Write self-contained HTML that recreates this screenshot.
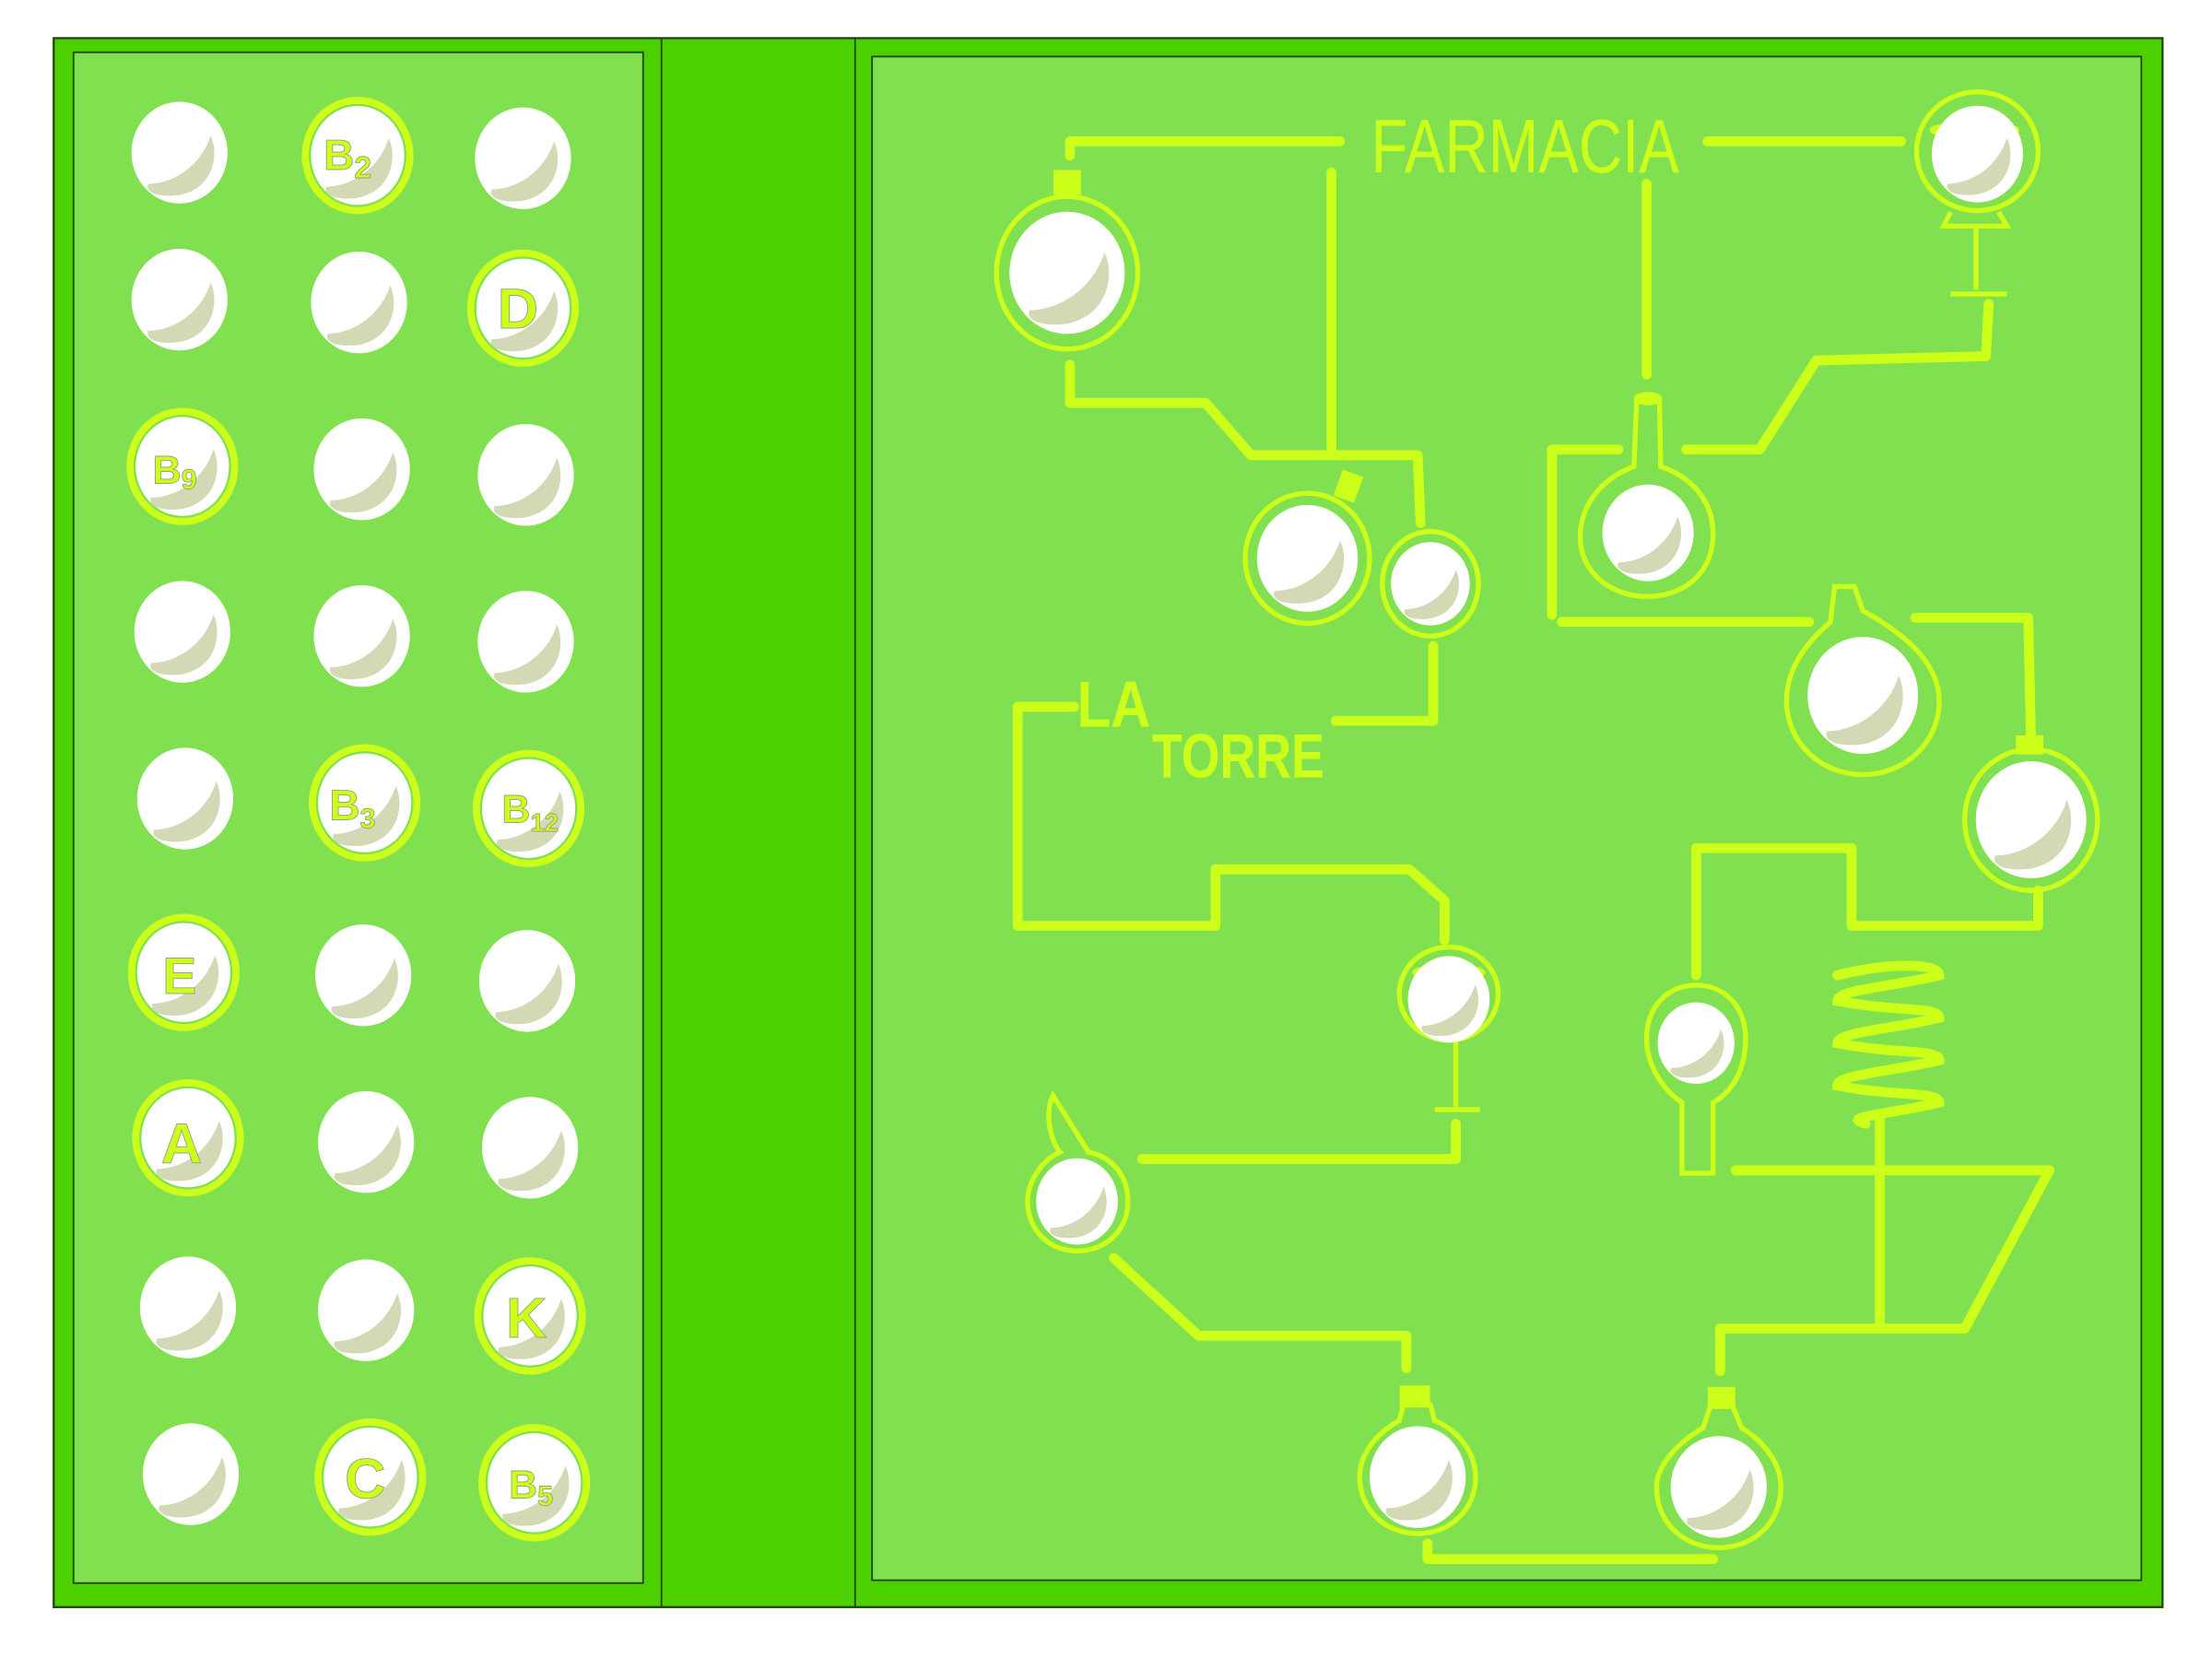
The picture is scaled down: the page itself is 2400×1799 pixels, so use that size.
<!DOCTYPE html>
<html><head><meta charset="utf-8"><style>
html,body{margin:0;padding:0;background:#fff;width:2400px;height:1799px;overflow:hidden}
svg{display:block}
text{font-family:"Liberation Sans","DejaVu Sans",sans-serif}
</style></head><body>
<svg width="2400" height="1799" viewBox="0 0 1565 1173" preserveAspectRatio="none" xmlns="http://www.w3.org/2000/svg">
<defs>
<g id="pill">
<ellipse cx="0" cy="0" rx="34" ry="36" fill="#fff"/>
<path d="M-22,22 C-5,22 15,10 22,-12 C28,0 25,25 0,30 C-15,32 -25,28 -22,22Z" fill="#d2d9b4"/>
</g>
<g id="pillr">
<ellipse cx="0" cy="0" rx="37" ry="39" fill="none" stroke="#ccff1a" stroke-width="5"/>
<ellipse cx="0" cy="0" rx="33" ry="35" fill="#fff"/>
<path d="M-22,22 C-5,22 15,10 22,-12 C28,0 25,25 0,30 C-15,32 -25,28 -22,22Z" fill="#d2d9b4"/>
</g>
</defs>
<rect x="0" y="0" width="1565" height="1173" fill="#fff"/>
<rect x="38" y="27" width="1492" height="1110" fill="#4cd000" stroke="#1d4a00" stroke-width="1.5"/>
<rect x="52" y="37" width="403" height="1083" fill="#80e050" stroke="#1d4a00" stroke-width="1.2"/>
<line x1="468" y1="27" x2="468" y2="1137" stroke="#1d4a00" stroke-width="1.2"/>
<line x1="605" y1="27" x2="605" y2="1137" stroke="#1d4a00" stroke-width="1.2"/>
<rect x="617" y="40" width="898" height="1078" fill="#80e050" stroke="#1d4a00" stroke-width="1.2"/>

<g>
<use href="#pill" x="127" y="108"/><use href="#pillr" x="253" y="110"/><use href="#pill" x="370" y="112"/>
<use href="#pill" x="127" y="212"/><use href="#pill" x="254" y="214"/><use href="#pillr" x="370" y="218"/>
<use href="#pillr" x="129" y="330"/><use href="#pill" x="256" y="332"/><use href="#pill" x="372" y="336"/>
<use href="#pill" x="129" y="447"/><use href="#pill" x="256" y="450"/><use href="#pill" x="372" y="454"/>
<use href="#pill" x="131" y="565"/><use href="#pillr" x="258" y="568"/><use href="#pillr" x="374" y="572"/>
<use href="#pillr" x="130" y="688"/><use href="#pill" x="257" y="690"/><use href="#pill" x="373" y="694"/>
<use href="#pillr" x="133" y="805"/><use href="#pill" x="259" y="808"/><use href="#pill" x="375" y="812"/>
<use href="#pill" x="133" y="925"/><use href="#pill" x="259" y="927"/><use href="#pillr" x="375" y="931"/>
<use href="#pill" x="135" y="1043"/><use href="#pillr" x="262" y="1045"/><use href="#pillr" x="378" y="1049"/>
</g>
<g fill="#ccff1a" stroke="#9aa080" stroke-width="0.6" font-weight="bold">
<text x="229" y="120" font-size="30">B<tspan font-size="22" dy="6">2</tspan></text>
<text x="352" y="232" font-size="40">D</text>
<text x="108" y="342" font-size="28">B<tspan font-size="20" dy="4">9</tspan></text>
<text x="233" y="580" font-size="30">B<tspan font-size="20" dy="6">3</tspan></text>
<text x="355" y="582" font-size="28">B<tspan font-size="18" dy="6">12</tspan></text>
<text x="115" y="703" font-size="36">E</text>
<text x="114" y="823" font-size="40">A</text>
<text x="358" y="946" font-size="40">K</text>
<text x="244" y="1060" font-size="40">C</text>
<text x="360" y="1060" font-size="28">B<tspan font-size="20" dy="5">5</tspan></text>
</g>

<g fill="none" stroke="#ccff1a" stroke-width="7" stroke-linecap="round" stroke-linejoin="round">
<polyline points="757,110 757,100 948,100"/>
<line x1="1208" y1="100" x2="1345" y2="100"/>
<line x1="942" y1="122" x2="942" y2="322"/>
<line x1="1165" y1="130" x2="1165" y2="265"/>
<polyline points="757,258 757,285 853,285 885,322 1003,322 1005,370"/>
<polyline points="1014,457 1014,510 945,510"/>
<polyline points="760,500 720,500 720,655 860,655 860,615 997,615 1022,637 1022,665"/>
<polyline points="808,820 1030,820 1030,795"/>
<polyline points="788,890 848,945 995,945 995,968"/>
<polyline points="1010,1092 1010,1103 1212,1103"/>
<polyline points="1217,970 1217,940 1390,940 1450,828 1228,828"/>
<line x1="1330" y1="790" x2="1330" y2="935"/>
<polyline points="1200,690 1200,600 1310,600 1310,655 1442,655 1442,630"/>
<line x1="1105" y1="440" x2="1280" y2="440"/>
<polyline points="1355,437 1435,437 1437,528"/>
<polyline points="1145,318 1098,318 1098,435"/>
<polyline points="1193,318 1245,318 1285,255 1405,252 1407,215"/>
</g>
<path d="M1300,690 C1340,680 1372,682 1372,690 C1340,698 1300,700 1300,708 C1340,716 1372,712 1372,720 C1340,728 1300,730 1300,738 C1340,746 1372,742 1372,750 C1340,758 1300,760 1300,768 C1340,776 1372,772 1372,780 C1340,788 1300,790 1320,795" fill="none" stroke="#ccff1a" stroke-width="7" stroke-linecap="round"/>

<g fill="none" stroke="#ccff1a" stroke-width="3.5">
<rect x="747" y="122" width="16" height="14" fill="#ccff1a"/>
<ellipse cx="755" cy="193" rx="50" ry="54"/>
<rect x="948" y="336" width="12" height="16" fill="#ccff1a" transform="rotate(20 954 344)"/>
<ellipse cx="925" cy="395" rx="44" ry="46"/>
<ellipse cx="1012" cy="413" rx="34" ry="37"/>
<path d="M1158,282 L1156,330 C1130,340 1118,360 1118,380 C1118,405 1140,422 1165,422 C1192,422 1212,405 1212,378 C1212,355 1198,338 1175,330 L1174,282 Z"/>
<ellipse cx="1166" cy="282" rx="8" ry="3"/>
<path d="M1298,415 L1312,415 L1318,432 C1350,450 1372,470 1372,496 C1372,525 1348,548 1318,548 C1288,548 1264,525 1264,496 C1264,468 1284,450 1295,440 Z"/>
<rect x="1428" y="522" width="16" height="10" fill="#ccff1a"/>
<ellipse cx="1437" cy="580" rx="47" ry="50"/>
<ellipse cx="1399" cy="107" rx="43" ry="42"/>
<ellipse cx="1397" cy="92" rx="30" ry="4"/>
<path d="M1380,150 L1375,160 L1420,160 L1414,150 M1398,160 L1398,205 M1380,208 L1420,208"/>
<ellipse cx="1025" cy="703" rx="35" ry="33"/>
<ellipse cx="1025" cy="688" rx="24" ry="4"/>
<path d="M1030,736 L1030,783 M1015,785 L1047,785"/>
<path d="M1190,780 L1190,830 L1212,830 L1212,780 C1230,770 1235,750 1235,735 C1235,712 1220,697 1200,697 C1180,697 1165,712 1165,735 C1165,752 1175,770 1190,780Z"/>
<path d="M745,775 C738,790 745,810 750,815 C735,822 727,838 727,850 C727,870 742,885 762,885 C783,885 798,870 798,850 C798,830 785,818 770,815 Z"/>
<rect x="992" y="982" width="18" height="12" fill="#ccff1a"/>
<path d="M993,994 L990,1005 C972,1015 962,1030 962,1045 C962,1068 980,1085 1003,1085 C1026,1085 1044,1068 1044,1045 C1044,1028 1032,1012 1015,1005 L1012,994Z"/>
<rect x="1210" y="983" width="16" height="12" fill="#ccff1a"/>
<path d="M1210,995 L1205,1010 C1185,1022 1172,1038 1172,1052 C1172,1078 1192,1095 1216,1095 C1240,1095 1260,1078 1260,1052 C1260,1035 1248,1020 1232,1010 L1226,995Z"/>
</g>
<g>
<use href="#pill" transform="translate(755,193) scale(1.2)"/>
<use href="#pill" transform="translate(925,395) scale(1.05)"/>
<use href="#pill" transform="translate(1012,413) scale(0.82)"/>
<use href="#pill" transform="translate(1166,377) scale(0.95)"/>
<use href="#pill" transform="translate(1318,492) scale(1.15)"/>
<use href="#pill" transform="translate(1437,580) scale(1.15)"/>
<use href="#pill" transform="translate(1399,109) scale(0.95)"/>
<use href="#pill" transform="translate(1025,707) scale(0.85)"/>
<use href="#pill" transform="translate(1200,738) scale(0.8)"/>
<use href="#pill" transform="translate(762,850) scale(0.85)"/>
<use href="#pill" transform="translate(1003,1045) scale(1)"/>
<use href="#pill" transform="translate(1216,1052) scale(1)"/>
</g>

<text x="970" y="122" font-size="54" fill="#ccff1a" textLength="218" lengthAdjust="spacingAndGlyphs">FARMACIA</text>
<text x="762" y="514" font-size="46" fill="#ccff1a" font-weight="bold" textLength="52" lengthAdjust="spacingAndGlyphs">LA</text>
<text x="815" y="550" font-size="44" fill="#ccff1a" font-weight="bold" textLength="122" lengthAdjust="spacingAndGlyphs">TORRE</text>
</svg>
</body></html>
